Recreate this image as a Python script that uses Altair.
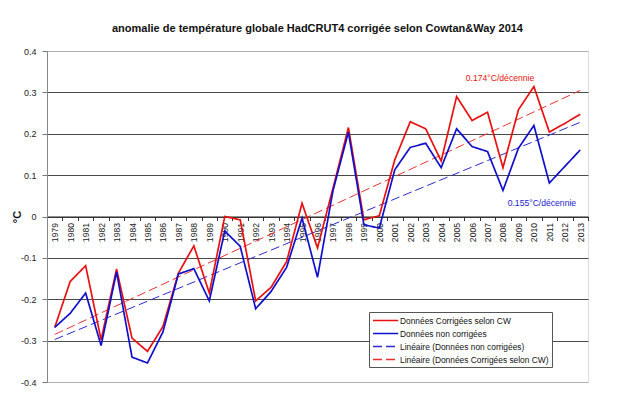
import altair as alt
import pandas as pd

years = [1979, 1980, 1981, 1982, 1983, 1984, 1985, 1986, 1987, 1988,
         1989, 1990, 1991, 1992, 1993, 1994, 1995, 1996, 1997, 1998,
         1999, 2000, 2001, 2002, 2003, 2004, 2005, 2006, 2007, 2008,
         2009, 2010, 2011, 2012, 2013]

corrected = [-0.268, -0.157, -0.119, -0.298, -0.127, -0.294, -0.326, -0.266, -0.137, -0.071,
             -0.185, 0.000, -0.008, -0.204, -0.171, -0.109, 0.032, -0.076, 0.068, 0.215,
             -0.008, 0.002, 0.137, 0.229, 0.212, 0.134, 0.290, 0.232, 0.252, 0.118,
             0.258, 0.314, 0.204, 0.225, 0.247]

uncorrected = [-0.268, -0.234, -0.185, -0.312, -0.134, -0.340, -0.354, -0.279, -0.139, -0.126,
               -0.204, -0.035, -0.072, -0.223, -0.181, -0.123, -0.004, -0.147, 0.062, 0.204,
               -0.020, -0.028, 0.113, 0.167, 0.177, 0.118, 0.212, 0.169, 0.157, 0.063,
               0.165, 0.220, 0.081, 0.121, 0.161]

S1 = "Données Corrigées selon CW"
S2 = "Données non corrigées"
S3 = "Linéaire (Données non corrigées)"
S4 = "Linéaire (Données Corrigées selon CW)"
series_names = [S1, S2, S3, S4]
series_colors = ["#e81010", "#1010cc", "#2a2ad0", "#e83030"]
series_dashes = [[1, 0], [1, 0], [9, 4], [9, 4]]

y_ticks = [-0.4, -0.3, -0.2, -0.1, 0, 0.1, 0.2, 0.3, 0.4]

annot_years = [2008, 2010]
annot_values = [0.334, 0.032]
annot_texts = ["0.174°C/décennie", "0.155°C/décennie"]

FONT = "Liberation Sans"

df = pd.DataFrame({
    "year": years * 2,
    "value": corrected + uncorrected,
    "series": [S1] * len(years) + [S2] * len(years),
})

W, H = 541, 331

x_enc = alt.X(
    "year:O",
    bandPosition=0.5,
    scale=alt.Scale(type="band", paddingInner=0, paddingOuter=0, domain=years),
    axis=alt.Axis(
        title=None, orient="bottom", offset=-H / 2, labelAngle=270,
        tickBand="extent", tickSize=4, tickColor="#333", domainColor="#222",
        labelFont=FONT, labelFontSize=8.6, labelColor="#222", labelPadding=2,
        grid=False, zindex=0,
    ),
)
y_enc = alt.Y(
    "value:Q",
    scale=alt.Scale(domain=[-0.4, 0.4], nice=False),
    axis=alt.Axis(
        title="°C", values=y_ticks,
        labelExpr="datum.value == 0 ? '0' : replace(format(datum.value, '.1f'), '\u2212', '-')",
        labelFont=FONT, labelFontSize=9, labelColor="#222", labelPadding=6,
        tickSize=5, tickColor="#777", domainColor="#888",
        grid=True,
        gridColor=alt.condition("abs(datum.value) > 0.35", alt.value("#b0b0b0"), alt.value("#4a4a4a")),
        titleFont=FONT, titleFontSize=11, titleFontWeight="bold", titleColor="#111",
        titleX=-30, titleY=H / 2, titleAngle=270, titleAlign="center", titleBaseline="middle",
    ),
)
color_enc = alt.Color(
    "series:N",
    title=None,
    scale=alt.Scale(domain=series_names, range=series_colors),
    legend=alt.Legend(
        orient="none", legendX=322, legendY=261,
        symbolType="M-1,0H4.6", symbolSize=81, symbolOffset=0,
        symbolStrokeWidth=1.6, labelFont=FONT, labelFontSize=8.4,
        labelColor="#111", labelLimit=400, labelOffset=17, rowPadding=3,
        fillColor="white", strokeColor="#555", padding=3, cornerRadius=0,
    ),
)
dash_enc = alt.StrokeDash(
    "series:N",
    title=None,
    scale=alt.Scale(domain=series_names, range=series_dashes),
)

base = alt.Chart(df)

trend = base.transform_regression(
    "year", "value", groupby=["series"]
).transform_calculate(
    series="datum.series == '" + S1 + "' ? '" + S4 + "' : '" + S3 + "'"
).mark_line(strokeWidth=1).encode(
    x=x_enc, y=y_enc, color=color_enc, strokeDash=dash_enc
)

lines = base.mark_line(strokeWidth=1.7).encode(
    x=x_enc, y=y_enc, color=color_enc, strokeDash=dash_enc
)

annot_df = pd.DataFrame({"year": annot_years, "value": annot_values, "text": annot_texts})
red_txt = alt.Chart(annot_df.iloc[[0]]).mark_text(
    font=FONT, fontSize=8.6, color="#e81010", align="center", baseline="middle", dx=-3
).encode(x=alt.X("year:O", bandPosition=0.5), y="value:Q", text="text:N")
blue_txt = alt.Chart(annot_df.iloc[[1]]).mark_text(
    font=FONT, fontSize=8.6, color="#1a1acc", align="center", baseline="middle", dx=8
).encode(x=alt.X("year:O", bandPosition=0.5), y="value:Q", text="text:N")

chart = alt.layer(trend, lines, red_txt, blue_txt).properties(
    width=W, height=H,
    title=alt.TitleParams(
        "anomalie de température globale HadCRUT4 corrigée selon Cowtan&Way 2014",
        font=FONT, fontSize=11, fontWeight="bold", color="#111", anchor="middle", offset=13,
    ),
    autosize=alt.AutoSizeParams(type="none"),
    padding={"left": 39, "top": 43, "right": 44, "bottom": 8},
).configure_view(stroke="#b0b0b0", strokeWidth=1).configure(background="white")

chart.save("out.html", embed_options={"renderer": "svg", "actions": False})
